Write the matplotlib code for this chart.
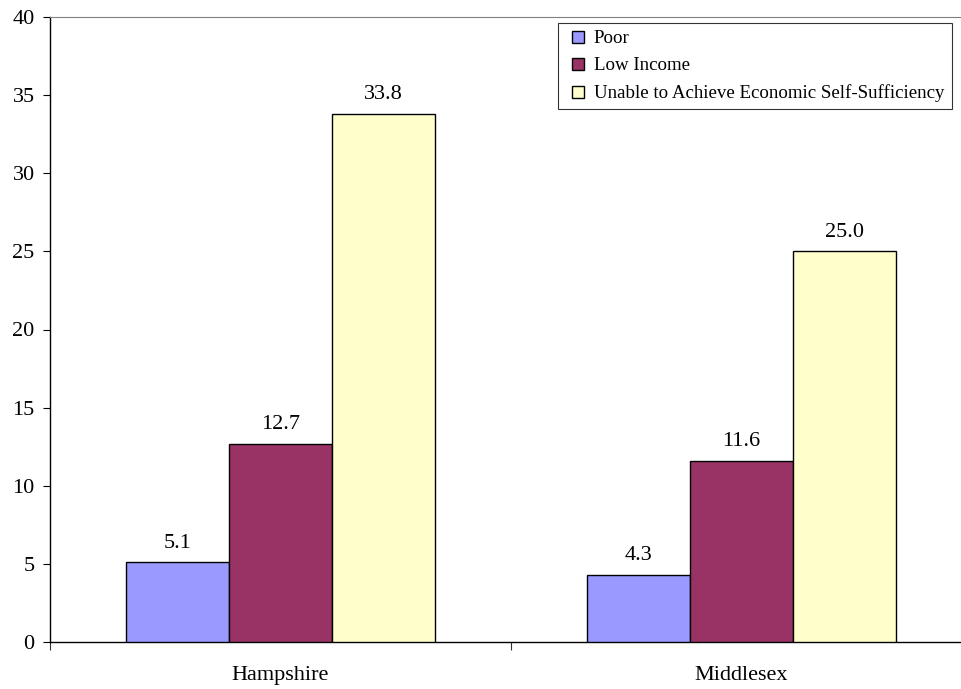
import matplotlib
matplotlib.use("Agg")
import matplotlib.pyplot as plt
from matplotlib.lines import Line2D
import numpy as np

categories = ["Hampshire", "Middlesex"]
series_names = ["Poor", "Low Income", "Unable to Achieve Economic Self-Sufficiency"]
poor = [5.1, 4.3]
low_income = [12.7, 11.6]
unable = [33.8, 25.0]
colors = ["#9999FF", "#993366", "#FFFFCC"]

plt.rcParams["font.family"] = ["Liberation Serif", "DejaVu Serif"]

fig = plt.figure(figsize=(9.61, 6.89), dpi=100)
W, H = 961, 689
ax = fig.add_axes([50 / W, (H - 642) / H, 922 / W, 625 / H])

x = np.arange(len(categories)) + 0.5
bw = 0.2234
for i, (vals, c, name) in enumerate(zip([poor, low_income, unable], colors, series_names)):
    pos = x + (i - 1) * bw
    ax.bar(pos, vals, width=bw, color=c, edgecolor="black", linewidth=1.0, label=name, zorder=3)
    for xp, v in zip(pos, vals):
        ax.annotate(f"{v:.1f}", (xp, v), xytext=(0, 7), textcoords="offset points",
                    ha="center", va="bottom", fontsize=16)

ax.set_xlim(0, 2)
ax.set_ylim(0, 40)
ax.set_yticks(np.arange(0, 41, 5))
ax.set_xticks([0, 1, 2])
ax.set_xticklabels([])
ax.set_xticks(x, minor=True)
ax.set_xticklabels(categories, minor=True)
ax.tick_params(axis="x", which="minor", length=0, pad=17, labelsize=16)
ax.tick_params(axis="x", which="major", direction="out", length=6, color="#333333")
ax.tick_params(axis="y", direction="out", length=5, labelsize=16, pad=6)

ax.spines["right"].set_visible(False)
ax.spines["top"].set_color("#808080")
ax.spines["left"].set_linewidth(1.0)
ax.spines["bottom"].set_linewidth(1.0)

handles = [Line2D([], [], linestyle="none", marker="s", markersize=8,
                  markerfacecolor=c, markeredgecolor="black", markeredgewidth=1.0)
           for c in colors]
leg = ax.legend(handles, series_names, loc="upper left", bbox_to_anchor=(558 / W, (H - 23) / H),
                bbox_transform=fig.transFigure, fontsize=13.6, frameon=True, fancybox=False,
                edgecolor="black", handlelength=1.4, handletextpad=0.12,
                borderpad=0.38, labelspacing=0.52, borderaxespad=0)
leg.get_frame().set_linewidth(0.8)

fig.savefig("out.png", dpi=100)
